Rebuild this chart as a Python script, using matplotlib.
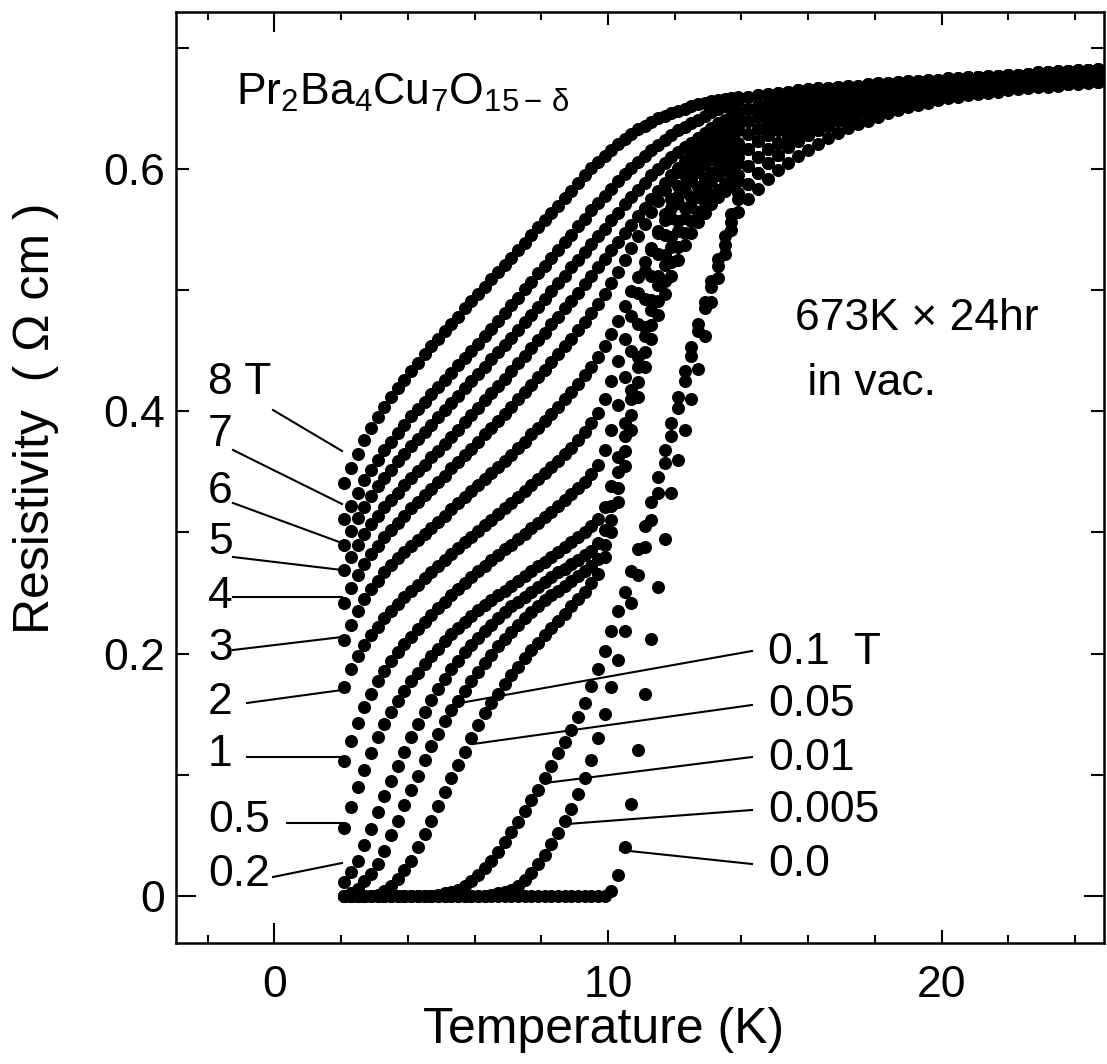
import matplotlib
matplotlib.use("Agg")
import matplotlib.pyplot as plt
from matplotlib.ticker import MultipleLocator, FixedLocator
from matplotlib.lines import Line2D

plt.rcParams['font.family'] = ['Liberation Sans', 'DejaVu Sans']
plt.rcParams['mathtext.fontset'] = 'custom'
plt.rcParams['mathtext.rm'] = 'Liberation Sans'
plt.rcParams['mathtext.it'] = 'Liberation Sans'
plt.rcParams['mathtext.sf'] = 'Liberation Sans'

# ---------------- data ----------------
T_low = [2.1, 2.3, 2.5, 2.7, 2.9, 3.1, 3.3, 3.5, 3.7, 3.9,
         4.1, 4.3, 4.5, 4.7, 4.9, 5.1, 5.3, 5.5, 5.7, 5.9,
         6.1, 6.3, 6.5, 6.7, 6.9, 7.1, 7.3, 7.5, 7.7, 7.9,
         8.1, 8.3, 8.5, 8.7, 8.9, 9.1, 9.3, 9.5, 9.7, 9.9,
         10.1, 10.3, 10.5, 10.7, 10.9, 11.1, 11.3, 11.5, 11.7, 11.9,
         12.1, 12.3, 12.5, 12.7, 12.9, 13.1, 13.3, 13.5, 13.7, 13.9]
T_high = [14.2, 14.5, 14.8, 15.1, 15.4, 15.7, 16.0, 16.3, 16.6, 16.9,
          17.2, 17.5, 17.8, 18.1, 18.4, 18.7, 19.0, 19.3, 19.6, 19.9,
          20.2, 20.5, 20.8, 21.1, 21.4, 21.7, 22.0, 22.3, 22.6, 22.9,
          23.2, 23.5, 23.8, 24.1, 24.4, 24.7, 25.0]

# normal-state part above 14 K (curves overlap into a solid band)
band_A = [.575, .584, .592, .599, .605, .611, .616, .621, .626, .630,
          .634, .637, .640, .643, .646, .649, .651, .653, .655, .657,
          .659, .660, .661, .662, .663, .664, .665, .666, .667, .668,
          .668, .669, .670, .670, .671, .672, .672]
band_B = [.588, .597, .605, .612, .618, .623, .628, .632, .636, .640,
          .643, .646, .648, .650, .652, .654, .656, .657, .659, .660,
          .661, .662, .663, .664, .665, .666, .667, .667, .668, .669,
          .669, .670, .670, .671, .672, .672, .673]
band_C = [.603, .610, .617, .622, .627, .631, .635, .638, .641, .644,
          .646, .648, .650, .652, .654, .656, .657, .659, .660, .661,
          .662, .663, .664, .665, .666, .667, .668, .668, .669, .670,
          .670, .671, .672, .672, .673, .674, .675]
band_D = [.617, .623, .628, .632, .636, .639, .642, .644, .647, .649,
          .651, .653, .655, .656, .658, .659, .660, .662, .663, .664,
          .665, .666, .667, .667, .668, .669, .670, .670, .671, .672,
          .672, .673, .674, .674, .675, .676, .677]
band_E = [.629, .633, .637, .640, .643, .645, .648, .650, .652, .654,
          .655, .657, .658, .660, .661, .662, .663, .664, .665, .666,
          .667, .668, .669, .670, .670, .671, .672, .673, .673, .674,
          .675, .675, .676, .677, .677, .678, .679]
band_F = [.640, .643, .646, .648, .650, .652, .654, .656, .657, .659,
          .660, .661, .663, .664, .665, .666, .667, .668, .669, .670,
          .670, .671, .672, .673, .673, .674, .675, .675, .676, .677,
          .677, .678, .678, .679, .680, .680, .681]
band_G = [.650, .652, .654, .656, .658, .659, .661, .662, .663, .664,
          .665, .666, .667, .668, .669, .670, .671, .672, .672, .673,
          .674, .674, .675, .676, .676, .677, .678, .678, .679, .680,
          .680, .681, .681, .682, .682, .683, .683]
band_H = [.660, .661, .662, .663, .664, .665, .666, .667, .667, .668,
          .669, .669, .670, .671, .671, .672, .673, .673, .674, .674,
          .675, .675, .676, .676, .677, .677, .678, .678, .679, .679,
          .680, .680, .681, .681, .682, .682, .683]

rho_0T = [0, 0, 0, 0, 0, 0, 0, 0, 0, 0,
          0, 0, 0, 0, 0, 0, 0, 0, 0, 0,
          0, 0, 0, 0, 0, 0, 0, 0, 0, 0,
          0, 0, 0, 0, 0, 0, 0, 0, 0, 0,
          .004, .017, .040, .076, .120, .167, .212, .255, .295, .333,
          .360, .385, .410, .435, .462, .490, .510, .530, .550, .565]
rho_0005T = [0, 0, 0, 0, 0, 0, 0, 0, 0, 0,
             0, 0, 0, 0, 0, 0, 0, 0, 0, 0,
             0, 0, .001, .002, .003, .005, .008, .013, .019, .026,
             .034, .043, .052, .062, .072, .084, .097, .112, .130, .150,
             .172, .195, .219, .242, .265, .288, .310, .333, .357, .380,
             .403, .425, .446, .466, .485, .503, .520, .537, .556, .575]
rho_001T = [0, 0, 0, 0, 0, 0, 0, 0, 0, 0,
            0, 0, 0, 0, .001, .002, .003, .005, .008, .012,
            .017, .023, .029, .036, .044, .053, .061, .070, .079, .087,
            .097, .107, .118, .127, .137, .148, .159, .173, .187, .202,
            .219, .235, .251, .268, .286, .305, .325, .346, .368, .390,
            .412, .433, .453, .472, .490, .508, .526, .545, .563, .580]
rho_005T = [0, 0, 0, 0, 0, .001, .004, .008, .014, .021,
            .029, .040, .051, .062, .074, .086, .097, .108, .119, .130,
            .141, .151, .159, .167, .175, .182, .189, .196, .203, .209,
            .215, .221, .227, .233, .239, .245, .251, .258, .266, .280,
            .300, .325, .355, .385, .412, .437, .460, .480, .497, .512,
            .525, .537, .547, .556, .564, .571, .577, .582, .586, .590]
rho_01T = [0, .002, .006, .012, .018, .026, .037, .050, .062, .075,
           .087, .099, .112, .124, .134, .144, .153, .161, .169, .177,
           .185, .192, .199, .206, .212, .218, .224, .229, .234, .239,
           .244, .248, .252, .256, .260, .264, .268, .272, .278, .290,
           .310, .337, .367, .397, .424, .449, .471, .491, .508, .523,
           .536, .547, .557, .565, .572, .578, .583, .588, .592, .595]
rho_02T = [.011, .020, .029, .042, .055, .069, .082, .095, .107, .119,
           .131, .142, .152, .162, .171, .179, .187, .194, .201, .207,
           .213, .219, .224, .229, .234, .239, .243, .247, .251, .255,
           .259, .263, .267, .270, .274, .277, .281, .285, .291, .302,
           .322, .350, .380, .410, .437, .462, .484, .504, .521, .536,
           .549, .560, .569, .577, .584, .590, .595, .599, .602, .605]
rho_05T = [.056, .073, .090, .104, .118, .131, .142, .152, .161, .169,
           .177, .184, .191, .198, .204, .210, .216, .221, .226, .231,
           .236, .240, .244, .248, .252, .256, .260, .264, .268, .272,
           .276, .280, .284, .288, .292, .296, .300, .305, .311, .321,
           .338, .362, .390, .418, .445, .470, .492, .512, .529, .544,
           .557, .568, .577, .585, .592, .597, .601, .605, .608, .610]
rho_1T = [.111, .128, .143, .156, .167, .177, .186, .194, .201, .208,
          .214, .220, .226, .232, .238, .243, .248, .253, .258, .263,
          .268, .272, .277, .281, .286, .290, .295, .299, .304, .308,
          .313, .317, .322, .327, .332, .337, .342, .348, .356, .368,
          .385, .405, .428, .450, .472, .493, .512, .530, .546, .560,
          .572, .582, .591, .598, .604, .608, .611, .614, .616, .618]
rho_2T = [.172, .187, .198, .207, .215, .222, .229, .235, .241, .247,
          .252, .257, .262, .267, .272, .277, .282, .287, .292, .296,
          .301, .306, .310, .315, .320, .324, .329, .334, .339, .344,
          .349, .354, .359, .365, .370, .376, .383, .390, .399, .410,
          .425, .442, .460, .479, .498, .516, .533, .549, .563, .575,
          .586, .595, .602, .608, .612, .615, .617, .619, .621, .622]
rho_3T = [.211, .224, .235, .245, .253, .260, .267, .273, .279, .284,
          .289, .294, .299, .304, .309, .314, .319, .324, .329, .334,
          .339, .344, .349, .354, .359, .364, .370, .375, .381, .386,
          .392, .398, .404, .410, .416, .423, .430, .437, .445, .454,
          .464, .475, .487, .499, .511, .523, .535, .547, .558, .568,
          .578, .587, .595, .602, .608, .614, .619, .624, .628, .632]
rho_4T = [.242, .254, .265, .274, .282, .289, .296, .302, .308, .314,
          .320, .325, .331, .336, .342, .347, .353, .358, .364, .369,
          .375, .381, .386, .392, .398, .404, .410, .416, .422, .428,
          .434, .441, .447, .454, .460, .467, .474, .481, .489, .497,
          .506, .515, .525, .535, .545, .555, .565, .574, .583, .591,
          .598, .605, .611, .616, .621, .625, .628, .631, .634, .636]
rho_5T = [.269, .280, .290, .299, .307, .314, .321, .327, .333, .339,
          .345, .351, .356, .362, .367, .373, .379, .385, .391, .397,
          .403, .409, .415, .421, .427, .433, .440, .446, .452, .459,
          .465, .472, .478, .485, .491, .498, .505, .512, .519, .526,
          .533, .540, .547, .554, .561, .568, .575, .582, .589, .595,
          .601, .607, .612, .617, .622, .627, .632, .637, .641, .645]
rho_6T = [.290, .301, .312, .321, .330, .338, .345, .352, .359, .365,
          .371, .377, .383, .389, .395, .401, .407, .413, .419, .425,
          .431, .437, .443, .449, .455, .461, .467, .474, .480, .486,
          .493, .499, .506, .512, .519, .525, .532, .538, .545, .551,
          .558, .564, .571, .577, .583, .589, .595, .600, .605, .610,
          .614, .618, .622, .626, .630, .634, .638, .641, .644, .647]
rho_7T = [.311, .322, .333, .343, .352, .360, .368, .375, .382, .389,
          .396, .402, .408, .414, .420, .426, .432, .438, .444, .450,
          .456, .462, .468, .475, .481, .488, .494, .501, .507, .514,
          .520, .527, .533, .540, .546, .553, .559, .566, .572, .578,
          .584, .590, .596, .601, .606, .611, .616, .620, .624, .628,
          .632, .635, .638, .641, .644, .647, .650, .652, .654, .656]
rho_8T = [.341, .353, .365, .376, .386, .395, .404, .412, .419, .426,
          .433, .440, .447, .454, .460, .466, .472, .478, .485, .491,
          .497, .503, .509, .515, .521, .527, .533, .539, .546, .552,
          .558, .564, .570, .576, .582, .589, .595, .601, .606, .611,
          .616, .621, .625, .629, .633, .636, .639, .642, .644, .646,
          .648, .650, .652, .654, .655, .656, .657, .658, .659, .660]

curves = [
    (rho_0T, band_A), (rho_0005T, band_B), (rho_001T, band_B),
    (rho_005T, band_C), (rho_01T, band_C), (rho_02T, band_D),
    (rho_05T, band_D), (rho_1T, band_E), (rho_2T, band_E),
    (rho_3T, band_F), (rho_4T, band_F), (rho_5T, band_G),
    (rho_6T, band_G), (rho_7T, band_H), (rho_8T, band_H),
]

left_labels = ["8 T", "7", "6", "5", "4", "3", "2", "1", "0.5", "0.2"]
right_labels = ["0.1  T", "0.05", "0.01", "0.005", "0.0"]
x_ticks = [0, 10, 20]
y_ticks = [0, 0.2, 0.4, 0.6]
y_ticklabels = ["0", "0.2", "0.4", "0.6"]

# ---------------- layout (pixels of the 1107x1064 image) ----------------
W, H = 1107, 1064
fig = plt.figure(figsize=(W / 100, H / 100), dpi=100)
ax = fig.add_axes([176 / W, 1 - 943 / H, (1104 - 176) / W, (943 - 12) / H])

T_all = T_low + T_high
for low, band in curves:
    ax.plot(T_all, low + band, linestyle="none", marker="o", markersize=9.4,
            markerfacecolor="black", markeredgewidth=0, color="black")

ax.set_xlim(-2.95, 24.87)
ax.set_ylim(-0.039, 0.7298)

ax.xaxis.set_major_locator(FixedLocator(x_ticks))
ax.xaxis.set_minor_locator(MultipleLocator(2))
ax.yaxis.set_major_locator(FixedLocator(y_ticks))
ax.yaxis.set_minor_locator(MultipleLocator(0.1))
ax.set_xticklabels([str(v) for v in x_ticks])
ax.set_yticklabels(y_ticklabels)

ax.tick_params(axis="both", which="both", direction="in", top=True, right=True,
               width=1.5, labelsize=32, colors="black")
ax.tick_params(axis="x", which="major", length=9.4, pad=16)
ax.tick_params(axis="x", which="minor", length=5.8)
ax.tick_params(axis="y", which="major", length=9.4, pad=8)
ax.tick_params(axis="y", which="minor", length=9.4)
for s in ax.spines.values():
    s.set_linewidth(1.8)
# the ticks at zero are drawn longer in the original figure
for tk in (ax.xaxis.get_major_ticks()[0], ax.yaxis.get_major_ticks()[0]):
    tk.tick1line.set_markersize(14.4)
    tk.tick2line.set_markersize(14.4)

def fx(px):
    return px / W

def fy(py):
    return 1 - py / H

fig.text(fx(604), fy(1030), "Temperature (K)", ha="center", va="center", fontsize=36)
fig.text(fx(36), fy(418), "Resistivity  ( \u03a9 cm )", ha="center", va="center",
         rotation=90, fontsize=36)

fig.text(fx(236), fy(105), r"Pr$_2$Ba$_4$Cu$_7$O$_{15-\,\mathrm{\delta}}$",
         ha="left", va="baseline", fontsize=32)
fig.text(fx(795), fy(330), "673K \u00d7 24hr", ha="left", va="baseline", fontsize=32)
fig.text(fx(795), fy(395), " in vac.", ha="left", va="baseline", fontsize=32)

# left field labels with leader lines
left_text_y = [383, 435, 491, 542, 596, 648, 702, 755, 821, 874]
left_lines = [((273, 410), (342, 451)), ((233, 450), (342, 504)),
              ((233, 503), (342, 543)), ((233, 557), (342, 570)),
              ((233, 597), (342, 597)), ((233, 650), (342, 637)),
              ((247, 703), (342, 690)), ((247, 757), (342, 757)),
              ((287, 823), (342, 823)), ((273, 877), (342, 863))]
for lab, ty, ((x1, y1), (x2, y2)) in zip(left_labels, left_text_y, left_lines):
    fig.text(fx(208), fy(ty), lab, ha="left", va="center", fontsize=32)
    fig.add_artist(Line2D([fx(x1), fx(x2)], [fy(y1), fy(y2)], color="black", lw=1.5))

right_text_y = [652, 705, 758, 811, 864]
right_lines = [((752, 651), (460, 703)), ((752, 705), (473, 744)),
               ((752, 757), (545, 783)), ((752, 810), (567, 824)),
               ((752, 864), (620, 850))]
for lab, ty, ((x1, y1), (x2, y2)) in zip(right_labels, right_text_y, right_lines):
    fig.text(fx(768), fy(ty), lab, ha="left", va="center", fontsize=32)
    fig.add_artist(Line2D([fx(x1), fx(x2)], [fy(y1), fy(y2)], color="black", lw=1.5))

fig.savefig("out.png", dpi=100)
